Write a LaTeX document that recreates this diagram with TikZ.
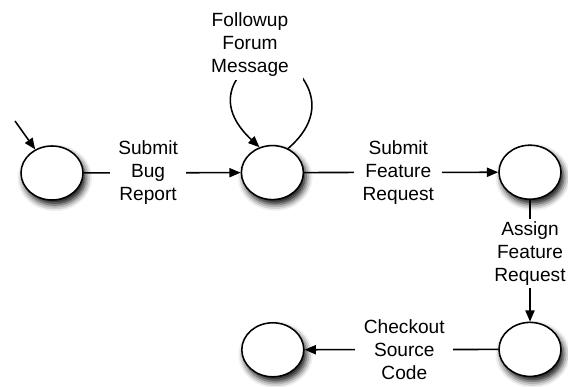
\documentclass[tikz,border=0pt]{standalone}
\usepackage{fontspec}
\setmainfont{Liberation Sans}
\usetikzlibrary{arrows.meta,shapes.geometric,shadows.blur}

\begin{document}
\begin{tikzpicture}[
  state/.style={ellipse, draw, line width=1.1pt, fill=white,
                minimum width=1.55cm, minimum height=1.35cm,
                blur shadow={shadow xshift=2pt, shadow yshift=-3.5pt,
                             shadow blur radius=4.5pt, shadow opacity=95}},
  arrow/.style={-{Triangle[length=8pt,width=6.5pt]}, line width=1.1pt},
  label/.style={fill=white, inner xsep=6pt, inner ysep=2pt, align=center,
                font=\fontsize{13.6}{16.4}\selectfont}
]
  \useasboundingbox (0,0) rectangle (14.2,9.675);

  \node[state] (s1) at (1.3,5.35)   {};
  \node[state] (s2) at (6.81,5.36)  {};
  \node[state] (s3) at (13.25,5.37) {};
  \node[state] (s4) at (13.25,0.94) {};
  \node[state] (s5) at (6.82,0.93)  {};
  \coordinate (init) at (0.375,6.65);
  \coordinate (looptop) at (6.75,8.3);

  \draw[arrow] (init) -- (s1);
  \draw[arrow] (s1) -- node[label,pos=0.41]{Submit\\Bug\\Report} (s2);
  \draw[arrow] (s2) -- node[label,pos=0.485]{Submit\\Feature\\Request} (s3);
  \draw[arrow] (s3) -- node[label,pos=0.44]{Assign\\Feature\\Request} (s4);
  \draw[arrow] (s4) -- node[label,pos=0.485]{Checkout\\Source\\Code} (s5);
  \draw[arrow] (s2.57) .. controls +(1.4,1.2) and +(0.4,0) .. (looptop)
    .. controls +(-0.3,0) and +(-1.5,1.4) .. (s2.117);
  \node[label,inner xsep=10pt] (followup) at (6.25,8.55) {Followup\\Forum\\Message};
\end{tikzpicture}
\end{document}
